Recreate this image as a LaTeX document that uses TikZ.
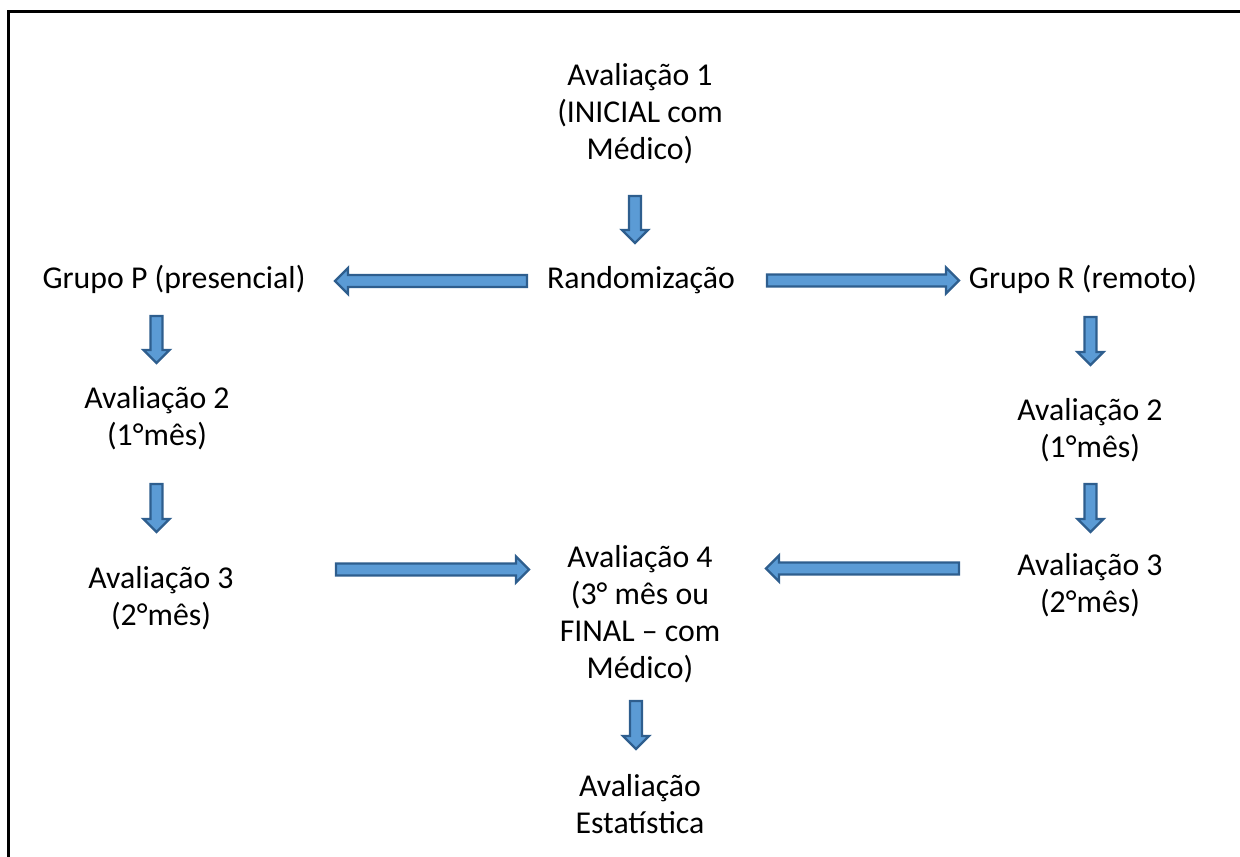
\documentclass[tikz,border=0pt]{standalone}
\usepackage{fontspec}
\setmainfont{Carlito}
\usetikzlibrary{calc}
\definecolor{arrowfill}{HTML}{5B9BD5}
\definecolor{arrowline}{HTML}{2E5E8E}
\tikzset{
  lbl/.style={anchor=base, inner sep=0pt, align=center,
    font=\fontsize{31.8}{37}\selectfont},
  blockarrow/.style={fill=arrowfill, draw=arrowline, line width=2.4pt, line join=miter}
}
\newcommand\blkarrow[2]{%
  \coordinate (tmpH) at ($(#2)!13pt!(#1)$);
  \draw[blockarrow] ($(#1)!6pt!90:(#2)$) -- ($(tmpH)!6pt!-90:(#1)$)
    -- ($(tmpH)!13pt!-90:(#1)$) -- (#2) -- ($(tmpH)!13pt!90:(#1)$)
    -- ($(tmpH)!6pt!90:(#1)$) -- ($(#1)!6pt!-90:(#2)$) -- cycle;}
\begin{document}
\begin{tikzpicture}[x=1pt,y=-1pt]
\useasboundingbox (0,0) rectangle (1240,857);
\begin{scope}
\clip (0,0) rectangle (1240,857);
\draw[line width=3pt] (8,870) -- (8,11) -- (1250,11);
\end{scope}
% texts (anchor = baseline of the last line)
\node[lbl] (a1) at (640,159) {Avaliação 1\\(INICIAL com\\Médico)};
\node[lbl] (rand) at (641,288) {Randomização};
\node[lbl] (gp) at (174,288) {Grupo P (presencial)};
\node[lbl] (gr) at (1083,288) {Grupo R (remoto)};
\node[lbl] (pa2) at (157,445) {Avaliação 2\\(1°mês)};
\node[lbl] (ra2) at (1090,457) {Avaliação 2\\(1°mês)};
\node[lbl] (pa3) at (161,625) {Avaliação 3\\(2°mês)};
\node[lbl] (ra3) at (1090,612) {Avaliação 3\\(2°mês)};
\node[lbl] (a4) at (640,678) {Avaliação 4\\(3° mês ou\\FINAL – com\\Médico)};
\node[lbl] (est) at (640,833) {Avaliação\\Estatística};
% arrow endpoints
\coordinate (a1s) at (635,196);  \coordinate (a1e) at (635,243);
\coordinate (rls) at (527,281);  \coordinate (rle) at (335,281);
\coordinate (rrs) at (767,280.5);\coordinate (rre) at (959,280.5);
\coordinate (gps) at (156.5,316);\coordinate (gpe) at (156.5,363);
\coordinate (p2s) at (156.5,484);\coordinate (p2e) at (156.5,532);
\coordinate (grs) at (1090.5,317);\coordinate (gre) at (1090.5,365);
\coordinate (r2s) at (1090.5,484);\coordinate (r2e) at (1090.5,532);
\coordinate (p3s) at (336,569.5);\coordinate (p3e) at (529,569.5);
\coordinate (r3s) at (959,568.5);\coordinate (r3e) at (766,568.5);
\coordinate (a4s) at (636,701);  \coordinate (a4e) at (636,749);
\blkarrow{a1s}{a1e}
\blkarrow{rls}{rle}
\blkarrow{rrs}{rre}
\blkarrow{gps}{gpe}
\blkarrow{p2s}{p2e}
\blkarrow{grs}{gre}
\blkarrow{r2s}{r2e}
\blkarrow{p3s}{p3e}
\blkarrow{r3s}{r3e}
\blkarrow{a4s}{a4e}
\end{tikzpicture}
\end{document}
